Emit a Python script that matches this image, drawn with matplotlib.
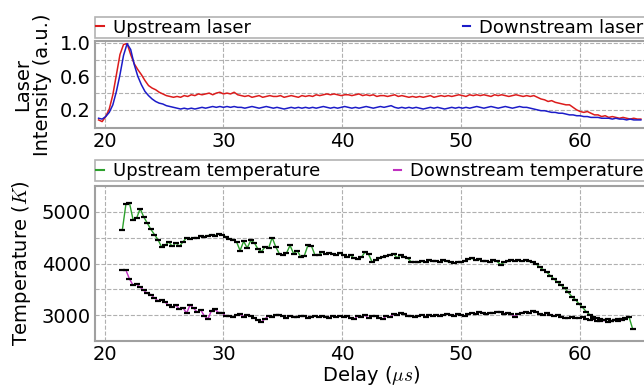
import numpy as np
import matplotlib
matplotlib.use('Agg')
import matplotlib.pyplot as plt

# Laser intensity (a.u.), sampled every 0.3 us from 19.5 to 65.1 us
laser_up = [0.08, 0.06, 0.12, 0.21, 0.38, 0.62, 0.86, 0.98, 0.99, 0.86,
            0.75, 0.68, 0.62, 0.55, 0.49, 0.46, 0.44, 0.41, 0.39, 0.37,
            0.36, 0.35, 0.36, 0.35, 0.37, 0.36, 0.38, 0.37, 0.39, 0.38,
            0.39, 0.40, 0.38, 0.40, 0.41, 0.39, 0.40, 0.39, 0.41, 0.38,
            0.37, 0.36, 0.37, 0.35, 0.36, 0.37, 0.35, 0.36, 0.37, 0.36,
            0.36, 0.37, 0.35, 0.36, 0.37, 0.36, 0.35, 0.37, 0.36, 0.37,
            0.36, 0.38, 0.37, 0.38, 0.39, 0.38, 0.39, 0.38, 0.37, 0.38,
            0.38, 0.37, 0.38, 0.39, 0.37, 0.38, 0.37, 0.38, 0.36, 0.37,
            0.37, 0.36, 0.37, 0.38, 0.36, 0.37, 0.36, 0.35, 0.36, 0.35,
            0.36, 0.35, 0.36, 0.37, 0.35, 0.36, 0.37, 0.36, 0.37, 0.36,
            0.37, 0.38, 0.37, 0.36, 0.38, 0.37, 0.38, 0.37, 0.38, 0.37,
            0.36, 0.38, 0.37, 0.38, 0.37, 0.36, 0.37, 0.38, 0.37, 0.36,
            0.37, 0.36, 0.37, 0.35, 0.33, 0.32, 0.30, 0.31, 0.29, 0.28,
            0.27, 0.26, 0.26, 0.23, 0.20, 0.18, 0.17, 0.18, 0.16, 0.14,
            0.14, 0.12, 0.13, 0.11, 0.12, 0.11, 0.10, 0.11, 0.10, 0.09,
            0.10, 0.09, 0.09]
laser_down = [0.10, 0.09, 0.12, 0.17, 0.26, 0.42, 0.62, 0.85, 0.99, 0.92,
              0.74, 0.60, 0.50, 0.42, 0.37, 0.33, 0.30, 0.28, 0.27, 0.25,
              0.24, 0.23, 0.22, 0.21, 0.22, 0.21, 0.22, 0.21, 0.22, 0.23,
              0.22, 0.23, 0.24, 0.23, 0.24, 0.23, 0.24, 0.23, 0.24, 0.23,
              0.23, 0.22, 0.23, 0.24, 0.23, 0.22, 0.23, 0.24, 0.23, 0.22,
              0.23, 0.22, 0.21, 0.22, 0.23, 0.22, 0.23, 0.22, 0.23, 0.22,
              0.23, 0.22, 0.23, 0.24, 0.23, 0.22, 0.23, 0.22, 0.23, 0.24,
              0.23, 0.22, 0.23, 0.22, 0.23, 0.24, 0.23, 0.22, 0.23, 0.24,
              0.23, 0.24, 0.25, 0.23, 0.22, 0.23, 0.22, 0.23, 0.22, 0.23,
              0.22, 0.21, 0.22, 0.23, 0.22, 0.23, 0.22, 0.21, 0.22, 0.23,
              0.22, 0.23, 0.22, 0.23, 0.22, 0.23, 0.24, 0.23, 0.22, 0.23,
              0.24, 0.23, 0.22, 0.23, 0.24, 0.23, 0.22, 0.23, 0.24, 0.23,
              0.23, 0.22, 0.21, 0.20, 0.19, 0.19, 0.18, 0.17, 0.17, 0.16,
              0.16, 0.15, 0.14, 0.14, 0.13, 0.13, 0.12, 0.12, 0.11, 0.11,
              0.11, 0.10, 0.10, 0.10, 0.09, 0.10, 0.09, 0.09, 0.08, 0.09,
              0.08, 0.08, 0.08]
laser_t0, laser_t1 = 19.5, 65.1

# Temperature (K), sampled every 0.3 us
temp_up = [4650, 5150, 5170, 4850, 4880, 5060, 4900, 4780, 4660, 4560,
           4460, 4320, 4350, 4420, 4330, 4400, 4330, 4420, 4500, 4480,
           4500, 4490, 4530, 4520, 4540, 4560, 4540, 4570, 4550, 4520,
           4480, 4460, 4420, 4250, 4430, 4300, 4450, 4400, 4280, 4230,
           4320, 4300, 4500, 4320, 4190, 4160, 4200, 4350, 4190, 4250,
           4130, 4150, 4350, 4340, 4160, 4170, 4220, 4180, 4200, 4190,
           4160, 4200, 4170, 4130, 4160, 4100, 4080, 4120, 4220,
           4180, 4030, 4060, 4100, 4120, 4150, 4170, 4190, 4110, 4160,
           4120, 4100, 4030, 4030, 4020, 4040, 4030, 4060, 4040, 4050,
           4030, 4060, 4040, 4020, 4010, 4030, 4020, 4050, 4080, 4100,
           4060, 4080, 4040, 4050, 4030, 4060, 4040, 3980,
           4020, 4040, 4060, 4050, 4060, 4040, 4060, 4040, 4020, 3990,
           3930, 3880, 3830, 3760, 3700, 3640, 3580, 3520, 3440, 3360,
           3300, 3220, 3150, 3070, 3010, 2970, 2940, 2920, 2900, 2920,
           2890, 2910, 2930, 2900, 2950, 2970, 2740]
temp_up_t0, temp_up_t1 = 21.5, 64.4
temp_down = [3880, 3870, 3700, 3580, 3600, 3540, 3480, 3420, 3400, 3330,
             3280, 3300, 3250, 3190, 3160, 3190, 3120, 3140, 3040, 3200,
             3130, 3060, 3100, 2980, 2930, 3090, 3110, 3050, 3040, 2980,
             2990, 2960, 3000, 3020, 2970, 3010, 2990, 2940, 2900, 2870,
             2930, 2990, 2960, 3000, 3010, 2980, 2950, 2990, 2970, 2960,
             2990, 2980, 2950, 2970, 2990, 2960, 2980, 2960, 2950, 2990,
             2970, 2990, 2960, 2980, 2950, 2920, 2990, 2960, 3000,
             2940, 2990, 2980, 2950, 2920, 2990, 2960, 3020, 3000, 3050,
             3030, 2990, 2980, 2960, 2990, 3010, 2970, 3000, 2980, 3010,
             2990, 3000, 3030, 3010, 2990, 3020, 3000, 2980, 3020, 3040,
             3030, 3060, 3050, 3020, 3050, 3040, 3070, 3060,
             3030, 3050, 3020, 2970, 3030, 3050, 3060, 3040, 3080, 3070,
             3020, 3000, 3040, 3010, 2990, 3000, 2970, 2950, 2940, 2970,
             2950, 2940, 2960, 2930, 2900, 2920, 2890, 2880, 2900, 2870,
             2890, 2910, 2880, 2920, 2930]
temp_down_t0, temp_down_t1 = 21.5, 63.8

t_laser = np.linspace(laser_t0, laser_t1, len(laser_up))
t_up = np.linspace(temp_up_t0, temp_up_t1, len(temp_up))
t_down = np.linspace(temp_down_t0, temp_down_t1, len(temp_down))

plt.rcParams['mathtext.fontset'] = 'cm'
fs = 14
fig = plt.figure(figsize=(6.44, 3.87), dpi=100)
# axes run slightly past the right edge of the picture, as in the original
ax1 = fig.add_axes([95/644, 1-128.3/387, 553/644, 87.6/387])
ax2 = fig.add_axes([95/644, 1-341/387, 553/644, 155/387])

ax1.plot(t_laser, laser_up, color='#dc1c1c', lw=1.1, label='Upstream laser')
ax1.plot(t_laser, laser_down, color='#1c1cc8', lw=1.1, label='Downstream laser')
ax1.set_ylim(-0.02, 1.025)
ax1.set_yticks([0.2, 0.6, 1.0])
ax1.set_yticks([0.4, 0.8], minor=True)
ax1.set_ylabel('Laser\nIntensity (a.u.)', fontsize=fs, linespacing=1.0, labelpad=6)

ax2.plot(t_up, temp_up, color='#2ca02c', lw=1.0, marker='_', ms=4, mew=1.6,
         mec='k', label='Upstream temperature')
ax2.plot(t_down, temp_down, color='#c030c0', lw=1.0, marker='_', ms=4, mew=1.6,
         mec='k', label='Downstream temperature')
ax2.set_ylim(2500, 5500)
ax2.set_yticks([3000, 4000, 5000])
ax2.set_yticks([3500, 4500], minor=True)
ax2.set_ylabel('Temperature ($K$)', fontsize=fs, labelpad=6)
ax2.set_xlabel(r'Delay ($\mu s$)', fontsize=fs, labelpad=0)

for ax in (ax1, ax2):
    ax.set_xlim(19.2, 65.7)
    ax.set_xticks([20, 30, 40, 50, 60])
    ax.tick_params(which='both', length=0, labelsize=fs, pad=3)
    ax.grid(True, which='both', ls='--', color='#b0b0b0', lw=0.8)
    for s in ax.spines.values():
        s.set_color('#a0a0a0')
        s.set_linewidth(1.5)
    # legend frame ends just past the right edge of the picture
    leg = ax.legend(bbox_to_anchor=(0, 1.03, 0.9945, 0.2), loc='lower left', mode='expand',
                    ncol=2, borderaxespad=0, fontsize=13, handlelength=0.4,
                    handletextpad=0.5, fancybox=False, borderpad=0.08)
    leg.get_frame().set_edgecolor('#a0a0a0')
    leg.get_frame().set_linewidth(1.2)
    for h in leg.get_lines():
        h.set_marker('')
        h.set_linewidth(1.5)

fig.savefig('out.png', dpi=100)
